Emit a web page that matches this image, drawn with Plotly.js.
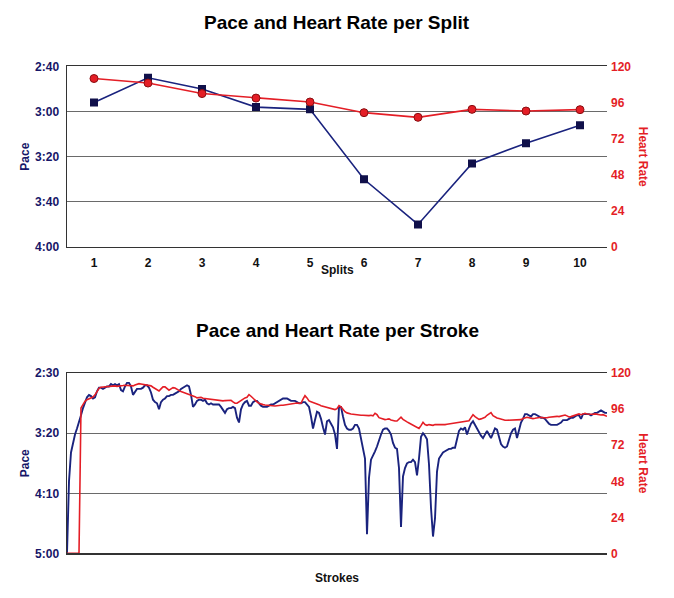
<!DOCTYPE html>
<html>
<head>
<meta charset="utf-8">
<script src="https://cdn.plot.ly/plotly-3.0.1.min.js"></script>
<style>html,body{margin:0;padding:0;background:#fff;}#chart{width:674px;height:598px;}</style>
</head>
<body>
<div id="chart"></div>
<script>
// ---- Data: per split ----
const splits = [1, 2, 3, 4, 5, 6, 7, 8, 9, 10];
const splitPace = [176, 165, 170, 178, 179, 210, 230, 203, 194, 186]; // seconds per 500m
const splitHR = [112, 109, 102, 99, 96.4, 89.3, 86.2, 91.5, 90.4, 91.3];
const splitPaceTickVals = [160, 180, 200, 220, 240];
const splitPaceTickText = ['2:40', '3:00', '3:20', '3:40', '4:00'];

// ---- Data: per stroke ----
const strokePace = [
300,240,216,207,201,196,191,185,179,174,
170,168,169,171,170,165,162,162,163,162,
161,161,159,160,159,160,159,164,165,161,
158,158,161,168,165,163,163,163,162,160,
160,162,166,172,174,175,180,174,172,171,
169,169,168,168,167,166,165,163,162,161,
160,161,168,178,176,173,172,172,173,172,
175,176,175,176,176,176,176,178,181,183,
180,179,179,178,179,187,191,180,176,174,
173,177,177,174,173,173,175,177,178,178,
178,177,176,176,175,174,173,172,171,171,
171,172,173,173,173,174,175,175,174,174,
176,178,186,196,189,182,183,188,195,201,
190,189,192,195,201,213,178,178,186,193,
196,197,197,196,193,193,196,205,213,221,
284,237,222,219,215,211,205,201,197,196,
196,198,201,208,212,213,229,278,236,229,
225,224,224,222,224,235,221,203,200,202,
205,226,262,286,271,232,221,218,216,215,
214,213,213,212,212,205,198,196,197,195,
201,196,192,190,193,197,199,202,204,201,
198,201,204,200,196,197,203,209,211,212,
211,206,200,197,196,204,196,191,188,184,
184,185,186,184,184,185,186,187,187,188,
190,192,193,193,193,193,192,191,189,189,
189,188,187,187,186,185,185,188,184,184,
184,184,185,184,183,183,182,181,182,183,183
];
const strokeHR = [
0,0,0,0,0,0,0,96.9,99.6,101.3,
102.4,103.1,103.8,104.2,105.6,108,110,110.7,110.9,111.1,
111.2,111.3,111.6,111.6,111.6,111.3,111.3,111.6,111.8,112,
111.8,111.6,111.3,111.6,112.2,112.9,113.1,112.9,112.7,112.4,
112.4,112.2,111.6,110.7,110,108.9,108.2,109.6,110.9,110.9,
109.8,108.7,109.6,110.4,110.2,109.3,108.2,107.8,107.3,106.9,
106.4,105.8,105.6,105.1,104.4,103.6,103.8,104,103.3,103.1,
103.1,102.7,102.4,102.2,101.9,101.8,101.6,101.3,101.6,101.8,
101.8,102,102,100.9,100,100,100.9,102.2,103.1,103.6,
104,105.8,104.7,103.3,102.2,100.9,100,99.3,99.1,98.9,
98.7,98.7,98.4,98,98.2,98.4,98.7,98.7,98.7,98.9,
99.1,99.3,99.6,100,100.2,100.2,100,100,102.7,105.1,
103.6,101.6,101.1,100.7,100.4,100,99.1,98.4,98,97.6,
97.1,96.7,96.2,95.8,95.8,96.4,98.4,97.6,95.8,94.4,
93.6,93.1,92.9,92.7,92.4,92.4,92.2,92,92,91.8,
91.8,91.8,92,91.6,93.3,92.4,90.4,90,89.6,89.1,
89.3,89.6,88.9,88.4,88.2,88.2,89.3,90.7,89.3,88.2,
87.6,86.9,86.2,85.6,84.9,84,83.3,85.1,87.3,85.8,
85.3,85.8,85.6,85.3,85.8,85.8,85.8,85.3,85.6,85.8,
86,86.2,86.7,86.9,86.9,87.1,87.3,87.8,88,88,
88.2,88.4,90.4,92.4,91.1,90.2,89.3,89.6,90,90.7,
92,93.1,93.8,91.8,90.7,90.2,89.8,89.3,88.9,88.7,
88.7,88.7,89.1,88.9,88.7,88.7,88.7,89.1,89.8,90.4,
90.7,90.4,90,89.8,90,90.4,90.7,90.7,90.4,90.2,
90.4,90.7,90.9,91.1,91.3,91.3,91.1,91.3,91.8,92.2,
91.6,90.9,91.1,91.6,92.2,92.7,92.9,92.4,92.9,93.3,
92.9,92.7,92.4,92.7,92.9,92.7,92.2,92.2,92.4,92,91.3
];
const strokes = strokePace.map((_, i) => i);
const strokePaceTickVals = [150, 200, 250, 300];
const strokePaceTickText = ['2:30', '3:20', '4:10', '5:00'];
const hrTickVals = [0, 24, 48, 72, 96, 120];

// ---- Styles ----
const NAVY = '#161668';
const NAVY_LINE = '#1a237e';
const RED = '#e41e26';
const GRID = '#6a6a6a';
const FONT = 'Liberation Sans, Arial, Helvetica, sans-serif';

const traces = [
  {x: splits, y: splitPace, xaxis: 'x', yaxis: 'y', type: 'scatter', mode: 'lines+markers',
   line: {color: NAVY_LINE, width: 1.6},
   marker: {symbol: 'square', size: 8, color: '#10104a', line: {color: '#10104a', width: 0}}},
  {x: splits, y: splitHR, xaxis: 'x', yaxis: 'y2', type: 'scatter', mode: 'lines+markers',
   line: {color: RED, width: 1.6},
   marker: {symbol: 'circle', size: 8, color: RED, line: {color: '#8a0f12', width: 1}}},
  {x: strokes, y: strokePace, xaxis: 'x2', yaxis: 'y3', type: 'scatter', mode: 'lines',
   line: {color: NAVY_LINE, width: 1.9}},
  {x: strokes, y: strokeHR, xaxis: 'x2', yaxis: 'y4', type: 'scatter', mode: 'lines',
   line: {color: RED, width: 1.6}}
];

const topDom = [0.587, 0.8888];
const botDom = [0.0747, 0.3758];

function paceAxis(dom, range, tv, tt, anchor) {
  return {domain: dom, range: range, anchor: anchor, tickvals: tv, ticktext: tt,
    showgrid: true, gridcolor: GRID, gridwidth: 1, zeroline: false,
    showline: true, linecolor: '#333', linewidth: 1.5, ticks: '',
    ticklabelstandoff: 4,
    tickfont: {family: FONT, size: 12, color: NAVY, weight: 'bold'}};
}
function hrAxis(overlay, anchor) {
  return {overlaying: overlay, side: 'right', anchor: anchor, range: [0, 120], tickvals: hrTickVals,
    showgrid: false, zeroline: false, showline: false, ticks: '', ticklabelstandoff: 3,
    tickfont: {family: FONT, size: 12, color: RED, weight: 'bold'}};
}

const layout = {
  width: 674, height: 598,
  margin: {l: 67, r: 67, t: 0, b: 0},
  paper_bgcolor: '#fff', plot_bgcolor: '#fff',
  showlegend: false,
  xaxis: {domain: [0, 1], anchor: 'y', range: [0.5, 10.5], tickvals: splits,
    showgrid: false, zeroline: false, showline: true, mirror: true, linecolor: '#333', linewidth: 1.5,
    ticks: '', ticklabelstandoff: 4,
    tickfont: {family: FONT, size: 12, color: '#111', weight: 'bold'}},
  yaxis: paceAxis(topDom, [240, 160], splitPaceTickVals, splitPaceTickText, 'x'),
  yaxis2: hrAxis('y', 'x'),
  xaxis2: {domain: [0, 1], anchor: 'y3', range: [0, strokes.length - 1],
    showgrid: false, zeroline: false, showline: true, mirror: true, linecolor: '#333', linewidth: 1.5,
    ticks: '', showticklabels: false},
  yaxis3: paceAxis(botDom, [300, 150], strokePaceTickVals, strokePaceTickText, 'x2'),
  yaxis4: hrAxis('y3', 'x2'),
  annotations: [
    {text: 'Pace and Heart Rate per Split', xref: 'paper', yref: 'paper', x: 0.5, y: 0.963,
     xanchor: 'center', yanchor: 'middle', showarrow: false,
     font: {family: FONT, size: 19, color: '#000', weight: 'bold'}},
    {text: 'Pace and Heart Rate per Stroke', xref: 'paper', yref: 'paper', x: 0.5, y: 0.4465,
     xanchor: 'center', yanchor: 'middle', showarrow: false,
     font: {family: FONT, size: 19, color: '#000', weight: 'bold'}},
    {text: 'Splits', xref: 'paper', yref: 'paper', x: 0.5, y: 0.5485,
     xanchor: 'center', yanchor: 'middle', showarrow: false,
     font: {family: FONT, size: 12, color: '#111', weight: 'bold'}},
    {text: 'Strokes', xref: 'paper', yref: 'paper', x: 0.5, y: 0.0334,
     xanchor: 'center', yanchor: 'middle', showarrow: false,
     font: {family: FONT, size: 12, color: '#111', weight: 'bold'}},
    {text: 'Pace', xref: 'paper', yref: 'paper', x: -0.0778, y: (topDom[0] + topDom[1]) / 2,
     xanchor: 'center', yanchor: 'middle', textangle: -90, showarrow: false,
     font: {family: FONT, size: 12, color: NAVY, weight: 'bold'}},
    {text: 'Pace', xref: 'paper', yref: 'paper', x: -0.0778, y: (botDom[0] + botDom[1]) / 2,
     xanchor: 'center', yanchor: 'middle', textangle: -90, showarrow: false,
     font: {family: FONT, size: 12, color: NAVY, weight: 'bold'}},
    {text: 'Heart Rate', xref: 'paper', yref: 'paper', x: 1.0667, y: (topDom[0] + topDom[1]) / 2,
     xanchor: 'center', yanchor: 'middle', textangle: 90, showarrow: false,
     font: {family: FONT, size: 12, color: RED, weight: 'bold'}},
    {text: 'Heart Rate', xref: 'paper', yref: 'paper', x: 1.0667, y: (botDom[0] + botDom[1]) / 2,
     xanchor: 'center', yanchor: 'middle', textangle: 90, showarrow: false,
     font: {family: FONT, size: 12, color: RED, weight: 'bold'}}
  ]
};

Plotly.newPlot('chart', traces, layout, {staticPlot: true, displayModeBar: false});
</script>
</body>
</html>
